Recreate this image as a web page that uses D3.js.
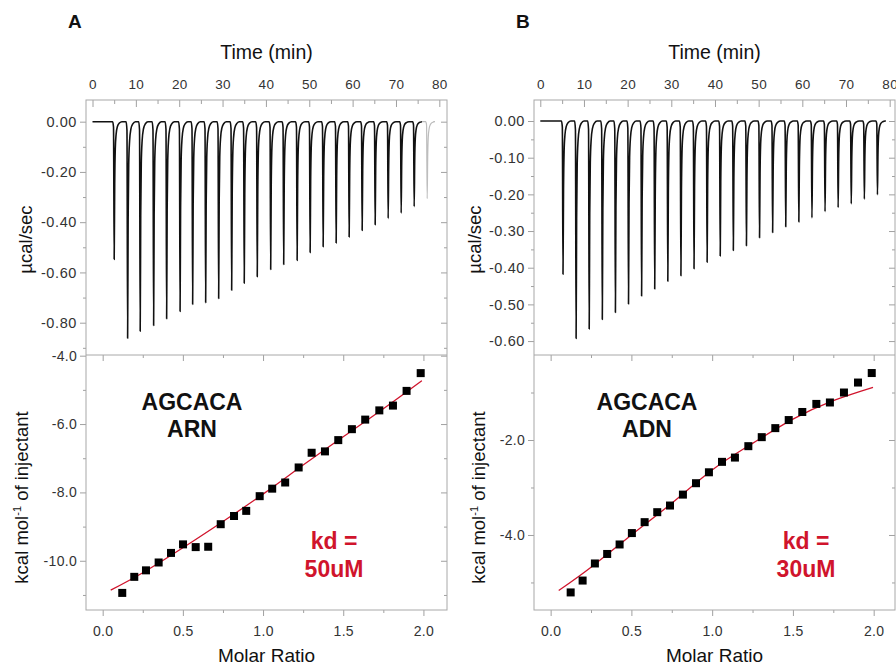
<!DOCTYPE html>
<html><head><meta charset="utf-8">
<script src="https://cdn.jsdelivr.net/npm/d3@7"></script>
<style>
body{margin:0;background:#fff;}
svg{display:block;font-family:"Liberation Sans",Arial,sans-serif;}
</style></head>
<body><svg id="chart" width="896" height="666"></svg>
<script>
// ---------- DATA ----------
const timeTicks = [0,10,20,30,40,50,60,70,80];
// Panel A thermogram: injection times (min) and peak depth (µcal/sec)
const injTimesA = [5.0,8.1,11.0,14.1,17.1,20.2,23.1,26.1,29.1,32.1,35.0,38.0,41.1,44.1,47.2,50.2,53.2,56.2,59.2,62.2,65.2,68.2,71.2,74.2,77.2];
const peakDepthA = [-0.548,-0.862,-0.834,-0.811,-0.784,-0.755,-0.727,-0.720,-0.704,-0.671,-0.643,-0.617,-0.588,-0.568,-0.552,-0.521,-0.498,-0.483,-0.459,-0.433,-0.410,-0.385,-0.364,-0.338,-0.306];
// Panel B thermogram
const injTimesB = [5.2,8.2,11.2,14.2,17.2,20.2,23.2,26.2,29.2,32.2,35.2,38.2,41.2,44.2,47.2,50.2,53.2,56.2,59.2,62.2,65.2,68.2,71.2,74.2,77.2];
const peakDepthB = [-0.418,-0.593,-0.567,-0.541,-0.522,-0.499,-0.477,-0.458,-0.437,-0.422,-0.403,-0.385,-0.368,-0.353,-0.340,-0.318,-0.304,-0.288,-0.275,-0.264,-0.247,-0.236,-0.226,-0.213,-0.201];
// Peak shape: time offset (min) vs fraction of depth
const peakShapeDt   = [-0.35,-0.15,0,0.12,0.25,0.45,0.75,1.2,1.8];
const peakShapeFrac = [0,0.04,1,0.45,0.2,0.09,0.035,0.01,0];

// Panel A integrated heats
const molarA = [0.122,0.197,0.270,0.349,0.426,0.501,0.580,0.658,0.736,0.819,0.895,0.979,1.057,1.138,1.222,1.303,1.386,1.469,1.554,1.637,1.725,1.810,1.895,1.983];
const heatA  = [-10.94,-10.47,-10.28,-10.05,-9.77,-9.52,-9.60,-9.59,-8.93,-8.69,-8.54,-8.11,-7.89,-7.71,-7.27,-6.84,-6.80,-6.47,-6.15,-5.87,-5.60,-5.46,-5.03,-4.51];
const fitXA = [0.05,0.25,0.5,0.75,1.0,1.25,1.5,1.75,1.99];
const fitYA = [-10.86,-10.35,-9.62,-8.85,-8.05,-7.20,-6.37,-5.55,-4.73];
// Panel B integrated heats
const molarB = [0.124,0.198,0.274,0.350,0.427,0.503,0.582,0.660,0.739,0.819,0.900,0.980,1.061,1.141,1.224,1.307,1.391,1.474,1.558,1.645,1.729,1.816,1.903,1.988];
const heatB  = [-5.21,-4.96,-4.60,-4.40,-4.20,-3.96,-3.73,-3.52,-3.38,-3.15,-2.91,-2.68,-2.46,-2.37,-2.13,-1.94,-1.75,-1.58,-1.41,-1.24,-1.21,-1.00,-0.79,-0.59];
const fitXB = [0.05,0.25,0.5,0.75,1.0,1.25,1.5,1.75,1.996];
const fitYB = [-5.17,-4.68,-4.00,-3.33,-2.63,-2.07,-1.56,-1.17,-0.89];

const molarTicks = [0,0.5,1.0,1.5,2.0];
const molarMinor = [0.25,0.75,1.25,1.75];

const panels = [
  {letter:"A", left:86, right:447, tDom:[-1.5,81.77],
   times:injTimesA, depths:peakDepthA, grayLast:true, traceEnd:78.6,
   topDom:[-0.9286,0.0863], topMajor:[0,-0.2,-0.4,-0.6,-0.8], topMinor:[-0.1,-0.3,-0.5,-0.7,-0.9], topFmt:d3.format(".2f"),
   botDom:[-11.44,-3.98], botMajor:[-4,-6,-8,-10], botMinor:[-5,-7,-9,-11], botFmt:d3.format(".1f"),
   xDom:[-0.104,2.147], mx:molarA, hy:heatA, fx:fitXA, fy:fitYA,
   name1:"AGCACA", name2:"ARN", kd:"50uM", nameX:192, kdX:334, ylab1X:25, ylab2X:21},
  {letter:"B", left:534, right:895, tDom:[-1.44,81.22],
   times:injTimesB, depths:peakDepthB, grayLast:false, traceEnd:78.8,
   topDom:[-0.638,0.0573], topMajor:[0,-0.1,-0.2,-0.3,-0.4,-0.5,-0.6], topMinor:[-0.05,-0.15,-0.25,-0.35,-0.45,-0.55], topFmt:d3.format(".2f"),
   botDom:[-5.58,-0.21], botMajor:[-2,-4], botMinor:[-1,-3,-5], botFmt:d3.format(".1f"),
   xDom:[-0.103,2.132], mx:molarB, hy:heatB, fx:fitXB, fy:fitYB,
   name1:"AGCACA", name2:"ADN", kd:"30uM", nameX:647, kdX:806, ylab1X:474, ylab2X:478}
];

const TOP=100, MID=355, BOT=610;
const frameColor="#a8a8a8", tickColor="#a0a0a0", labColor="#333", red="#d0142c";
const svg = d3.select("#chart");

function styleAxis(size, spacing){
  return g => {
    g.select(".domain").remove();
    g.selectAll(".tick line").attr("stroke",tickColor);
    g.selectAll(".tick text").attr("fill",labColor).style("font-size",size+"px")
      .style("letter-spacing",(spacing||0)+"px")
      .style("font-family","'Liberation Sans',Arial,sans-serif");
  };
}

function fmtNeg(f){ return d => f(d).replace("−","-"); }

panels.forEach(p=>{
  const W = p.right - p.left;
  const xT = d3.scaleLinear().domain(p.tDom).range([p.left,p.right]);
  const yT = d3.scaleLinear().domain(p.topDom).range([MID,TOP]);
  const yB = d3.scaleLinear().domain(p.botDom).range([BOT,MID]);
  const xM = d3.scaleLinear().domain(p.xDom).range([p.left,p.right]);

  // panel letter
  svg.append("text").attr("x",p.left-18).attr("y",28).text(p.letter)
    .style("font-size","19px").style("font-weight","bold").attr("fill","#111");

  // Time axis title
  svg.append("text").attr("x",(p.left+p.right)/2).attr("y",59).attr("text-anchor","middle")
    .text("Time (min)").style("font-size","19.5px").attr("fill","#111");

  // top time axis: ticks inward, labels above
  svg.append("g").attr("transform",`translate(0,${TOP})`)
    .call(d3.axisTop(xT).tickValues(timeTicks).tickSize(-7).tickPadding(11).tickFormat(d3.format("d")))
    .call(styleAxis(13.5, 0.3));
  svg.append("g").attr("transform",`translate(0,${TOP})`)
    .call(d3.axisTop(xT).tickValues(d3.range(5,81,10)).tickSize(-4).tickFormat(""))
    .call(styleAxis(13));

  // top panel left axis (outward)
  svg.append("g").attr("transform",`translate(${p.left},0)`)
    .call(d3.axisLeft(yT).tickValues(p.topMajor).tickSize(6).tickPadding(3).tickFormat(fmtNeg(p.topFmt)))
    .call(styleAxis(14.5, 0.6));
  svg.append("g").attr("transform",`translate(${p.left},0)`)
    .call(d3.axisLeft(yT).tickValues(p.topMinor).tickSize(3).tickFormat(""))
    .call(styleAxis(13));
  // top panel right axis (inward)
  svg.append("g").attr("transform",`translate(${p.right},0)`)
    .call(d3.axisRight(yT).tickValues(p.topMajor).tickSize(-6).tickFormat(""))
    .call(styleAxis(13));
  svg.append("g").attr("transform",`translate(${p.right},0)`)
    .call(d3.axisRight(yT).tickValues(p.topMinor).tickSize(-3).tickFormat(""))
    .call(styleAxis(13));

  // bottom panel left axis (outward)
  svg.append("g").attr("transform",`translate(${p.left},0)`)
    .call(d3.axisLeft(yB).tickValues(p.botMajor).tickSize(6).tickPadding(3).tickFormat(fmtNeg(p.botFmt)))
    .call(styleAxis(14, 0.3));
  svg.append("g").attr("transform",`translate(${p.left},0)`)
    .call(d3.axisLeft(yB).tickValues(p.botMinor).tickSize(3).tickFormat(""))
    .call(styleAxis(13));
  svg.append("g").attr("transform",`translate(${p.right},0)`)
    .call(d3.axisRight(yB).tickValues(p.botMajor).tickSize(-6).tickFormat(""))
    .call(styleAxis(13));
  svg.append("g").attr("transform",`translate(${p.right},0)`)
    .call(d3.axisRight(yB).tickValues(p.botMinor).tickSize(-3).tickFormat(""))
    .call(styleAxis(13));

  // bottom x axis (outward) + mirrored inward ticks at top of lower panel
  svg.append("g").attr("transform",`translate(0,${BOT})`)
    .call(d3.axisBottom(xM).tickValues(molarTicks).tickSize(6).tickPadding(10).tickFormat(d3.format(".1f")))
    .call(styleAxis(14, 0.3));
  svg.append("g").attr("transform",`translate(0,${BOT})`)
    .call(d3.axisBottom(xM).tickValues(molarMinor).tickSize(3).tickFormat(""))
    .call(styleAxis(13));
  svg.append("g").attr("transform",`translate(0,${MID})`)
    .call(d3.axisTop(xM).tickValues(molarTicks).tickSize(-6).tickFormat(""))
    .call(styleAxis(13));
  svg.append("g").attr("transform",`translate(0,${MID})`)
    .call(d3.axisTop(xM).tickValues(molarMinor).tickSize(-3).tickFormat(""))
    .call(styleAxis(13));

  // frames
  svg.append("rect").attr("x",p.left).attr("y",TOP).attr("width",W).attr("height",BOT-TOP)
    .attr("fill","none").attr("stroke",frameColor).attr("stroke-width",1);
  svg.append("line").attr("x1",p.left).attr("x2",p.right).attr("y1",MID).attr("y2",MID)
    .attr("stroke",frameColor).attr("stroke-width",1);

  // thermogram trace
  const pts = [[0.0,0]];
  const nBlack = p.grayLast ? p.times.length-1 : p.times.length;
  const buildPeak = (i, arr) => {
    peakShapeDt.forEach((dt,k)=> arr.push([p.times[i]+dt, p.depths[i]*peakShapeFrac[k]]));
  };
  for(let i=0;i<nBlack;i++) buildPeak(i, pts);
  if(!p.grayLast) pts.push([p.traceEnd,0]);
  const line = d3.line().x(d=>xT(d[0])).y(d=>yT(d[1])).curve(d3.curveMonotoneX);
  svg.append("path").datum(pts).attr("d",line).attr("fill","none")
    .attr("stroke","#111").attr("stroke-width",1.6).attr("stroke-linejoin","round");
  if(p.grayLast){
    const g=[];
    buildPeak(p.times.length-1, g);
    g.unshift([pts[pts.length-1][0],0]);
    g.push([p.traceEnd,0]);
    svg.append("path").datum(g).attr("d",line).attr("fill","none")
      .attr("stroke","#bdbdbd").attr("stroke-width",1.2);
  }

  // fit curve
  const fitPts = p.fx.map((x,i)=>[x,p.fy[i]]);
  svg.append("path").datum(fitPts)
    .attr("d",d3.line().x(d=>xM(d[0])).y(d=>yB(d[1])).curve(d3.curveNatural))
    .attr("fill","none").attr("stroke",red).attr("stroke-width",1.3);

  // data squares
  svg.append("g").selectAll("rect").data(p.mx.map((x,i)=>[x,p.hy[i]])).join("rect")
    .attr("x",d=>xM(d[0])-4).attr("y",d=>yB(d[1])-4).attr("width",8).attr("height",8).attr("fill","#000");

  // y axis titles
  const cy1=(TOP+MID)/2+12;
  svg.append("text").attr("transform",`translate(${p.ylab1X+7},${cy1}) rotate(-90)`)
    .attr("text-anchor","middle").text("µcal/sec").style("font-size","18.5px").attr("fill","#111");
  const t2 = svg.append("text").attr("transform",`translate(${p.ylab2X+7},${(MID+BOT)/2+15}) rotate(-90)`)
    .attr("text-anchor","middle").style("font-size","18.5px").attr("fill","#111");
  t2.append("tspan").text("kcal mol");
  t2.append("tspan").text("-1").style("font-size","11px").attr("dy",-7);
  t2.append("tspan").text(" of injectant").attr("dy",7);

  // Molar ratio title
  svg.append("text").attr("x",(p.left+p.right)/2).attr("y",662).attr("text-anchor","middle")
    .text("Molar Ratio").style("font-size","19px").attr("fill","#111");

  // annotations
  svg.append("text").attr("x",p.nameX).attr("y",410).attr("text-anchor","middle")
    .text(p.name1).style("font-size","23px").style("font-weight","bold").attr("fill","#111");
  svg.append("text").attr("x",p.nameX).attr("y",437).attr("text-anchor","middle")
    .text(p.name2).style("font-size","23px").style("font-weight","bold").attr("fill","#111");
  svg.append("text").attr("x",p.kdX).attr("y",549).attr("text-anchor","middle")
    .text("kd =").style("font-size","23px").style("font-weight","bold").attr("fill",red);
  svg.append("text").attr("x",p.kdX).attr("y",577).attr("text-anchor","middle")
    .text(p.kd).style("font-size","23px").style("font-weight","bold").attr("fill",red);
});
</script></body></html>
